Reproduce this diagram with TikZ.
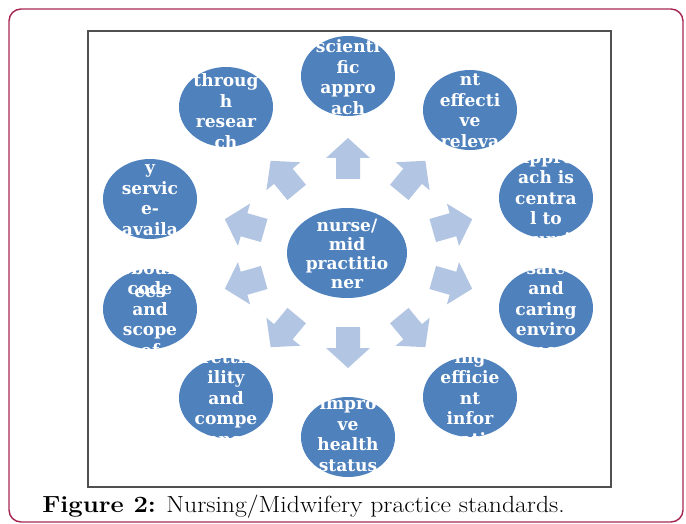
\documentclass[tikz,border=0pt]{standalone}
\usepackage{fontspec}
\usepackage{graphicx}
\usetikzlibrary{shapes.geometric}
\newfontfamily\cfont{DejaVu Serif}
\definecolor{circblue}{RGB}{79,129,189}
\definecolor{arrblue}{RGB}{178,197,226}
\definecolor{framecol}{RGB}{166,40,82}
\definecolor{boxgray}{RGB}{80,80,80}
\tikzset{
  bub/.style={ellipse, fill=circblue, minimum width=70.5pt, minimum height=60pt, inner sep=0pt},
  hub/.style={ellipse, fill=circblue, minimum width=90pt, minimum height=67.5pt, inner sep=0pt},
  btxt/.style={text=white, font=\cfont\bfseries\fontsize{12.8}{15.4}\selectfont, align=center, inner sep=0pt},
  ctxt/.style={text=white, font=\cfont\bfseries\fontsize{12.8}{14.3}\selectfont, align=center, inner sep=0pt},
  arrowfill/.style={fill=arrblue}
}
\newcommand\blockarrow[2]{%
  \begin{scope}[shift={#1}, rotate=#2]
    \fill[arrowfill] (-20,-12) -- (1,-12) -- (1,-22) -- (21,0) -- (1,22) -- (1,12) -- (-20,12) -- cycle;
  \end{scope}}
\begin{document}
\begin{tikzpicture}[x=0.75pt,y=-0.75pt]
\useasboundingbox (0,0) rectangle (686,524);
% outer frame and inner box
\draw[framecol, line width=1.1pt, rounded corners=9pt] (9,9) rectangle (683,522);
\draw[boxgray, line width=0.8pt] (88,31) rectangle (611,487);
% arrows
\blockarrow{(348,159)}{90}
\blockarrow{(412,177)}{50.5}
\blockarrow{(452,225)}{16}
\blockarrow{(452,283)}{-16}
\blockarrow{(412,331)}{-50.5}
\blockarrow{(348,347)}{-90}
\blockarrow{(284,331)}{-129.5}
\blockarrow{(245,283)}{-164}
\blockarrow{(245,225)}{164}
\blockarrow{(284,177)}{129.5}
% circles
\node[hub] (c0) at (347,253) {};
\node[bub] (c1) at (348,76) {};
\node[bub] (c2) at (470,110) {};
\node[bub] (c3) at (546,198) {};
\node[bub] (c4) at (546,308) {};
\node[bub] (c5) at (470,397) {};
\node[bub] (c6) at (348,437) {};
\node[bub] (c7) at (226,398) {};
\node[bub] (c8) at (150,309) {};
\node[bub] (c9) at (150,199) {};
\node[bub] (c10) at (226,107) {};
% texts
\node[ctxt] (t0) at (347,254) {nurse/\\mid\\practitio\\ner};
\node[btxt] (t1) at (348,77) {scienti\\fic\\appro\\ach};
\node[btxt] (t2) at (470,111) {nt\\effecti\\ve\\releva};
\node[btxt] (t3) at (546,200) {appro\\ach is\\centra\\l to\\nursi};
\node[btxt] (t4) at (546,309) {safe\\and\\caring\\enviro\\nment};
\node[btxt] (t5) at (470,398) {ing\\efficie\\nt\\infor\\matio};
\node[btxt] (t6) at (348,434) {impro\\ve\\health\\status};
\node[btxt] (t7) at (226,398) {retth\\ility\\and\\compe\\tence};
\node[btxt] (t8) at (150,309) {eboun\\code\\and\\scope\\of};
\node[btxt] (t8b) at (150,293) {ees};
\node[btxt] (t9) at (150,200) {y\\servic\\e-\\availa};
\node[btxt] (t10) at (226,111) {throug\\h\\resear\\ch};
% caption
\node[anchor=base west, inner sep=0pt] (cap) at (42,512) {\scalebox{1.1}[1.0]{\fontsize{17.5}{20}\selectfont\textbf{Figure 2:} Nursing/Midwifery practice standards.}};
\end{tikzpicture}
\end{document}
